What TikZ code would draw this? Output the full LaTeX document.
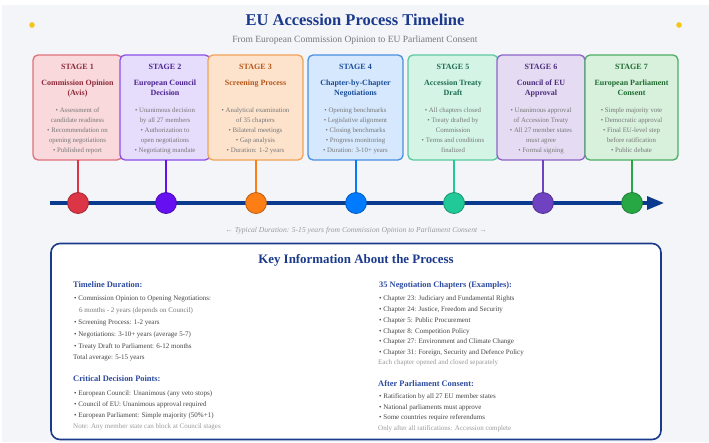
\documentclass[tikz,border=0pt]{standalone}
\usepackage{fontspec}
\setmainfont{Liberation Serif}
\usetikzlibrary{arrows.meta}
\definecolor{bg}{HTML}{F3F5F9}
\definecolor{eublue}{HTML}{1B3A8C}
\definecolor{headblue}{HTML}{2C4A9E}
\definecolor{txt}{HTML}{444444}
\definecolor{subtxt}{HTML}{777777}
\definecolor{notetxt}{HTML}{9A9A9A}
\definecolor{gold}{HTML}{F5C518}
\definecolor{timeline}{HTML}{0A3A8E}
% stage colours: fill, border, text, dot
\definecolor{f1}{HTML}{F9D9DC}\definecolor{b1}{HTML}{E0707C}\definecolor{t1}{HTML}{8B2A3A}\definecolor{d1}{HTML}{DC3545}
\definecolor{f2}{HTML}{E6DCFC}\definecolor{b2}{HTML}{8A4FE8}\definecolor{t2}{HTML}{4B2390}\definecolor{d2}{HTML}{6610F2}
\definecolor{f3}{HTML}{FDE3CC}\definecolor{b3}{HTML}{F0A35A}\definecolor{t3}{HTML}{B5561A}\definecolor{d3}{HTML}{FD7E14}
\definecolor{f4}{HTML}{D6E8FD}\definecolor{b4}{HTML}{4A90E2}\definecolor{t4}{HTML}{1A4D9A}\definecolor{d4}{HTML}{007BFF}
\definecolor{f5}{HTML}{D4F5E6}\definecolor{b5}{HTML}{5CC9A0}\definecolor{t5}{HTML}{1D6B52}\definecolor{d5}{HTML}{20C997}
\definecolor{f6}{HTML}{E5DCF3}\definecolor{b6}{HTML}{8A64C8}\definecolor{t6}{HTML}{4B2C7E}\definecolor{d6}{HTML}{6F42C1}
\definecolor{f7}{HTML}{D7F1DC}\definecolor{b7}{HTML}{4CAE64}\definecolor{t7}{HTML}{1F6B31}\definecolor{d7}{HTML}{28A745}

\tikzset{
  stagebox/.style={rounded corners=5pt, line width=1.3pt, minimum height=105pt, inner sep=0pt},
  stagelabel/.style={font=\fontsize{8}{10}\selectfont\bfseries, inner sep=0pt, anchor=center},
  stagetitle/.style={font=\fontsize{8}{10}\selectfont\bfseries, inner sep=0pt, anchor=north, align=center},
  stagebul/.style={font=\fontsize{6.8}{10}\selectfont, text=subtxt, inner sep=0pt, anchor=north, align=center},
  tldot/.style={circle, minimum size=21pt, inner sep=0pt, line width=0.8pt},
  conn/.style={line width=1.6pt},
  infohead/.style={font=\fontsize{8.4}{10}\selectfont\bfseries, text=headblue, anchor=base west, inner sep=0pt},
  infotext/.style={font=\fontsize{7}{8}\selectfont, text=txt, anchor=base west, inner sep=0pt},
  infosub/.style={font=\fontsize{7}{8}\selectfont, text=subtxt, anchor=base west, inner sep=0pt},
  infonote/.style={font=\fontsize{7}{8}\selectfont, text=notetxt, anchor=base west, inner sep=0pt},
}

% #1 number, #2 box centre x, #3 box width, #4 dot x, #5 title, #6 bullets
\newcommand\mkstage[6]{%
  \node[stagebox, fill=f#1, draw=b#1, minimum width=#3pt] (s#1) at (#2,107.5) {};
  \node[stagelabel, text=t#1] (sl#1) at (#2,67) {STAGE #1};
  \node[stagetitle, text=t#1] (st#1) at (#2,79.8) {#5};
  \node[stagebul] (sb#1) at (#2,107.4) {#6};
  \coordinate (sc#1) at (#4,160);
  \node[tldot, fill=d#1, draw=d#1!75!black] (c#1) at (#4,203) {};
  \draw[conn, draw=d#1] (sc#1) -- (c#1.north);
}

\begin{document}
\begin{tikzpicture}[x=1pt,y=-1pt]
\useasboundingbox (0,0) rectangle (709,442);
\fill[white] (0,0) rectangle (709,442);
\fill[bg] (2,5) rectangle (709,442);

% decorative dots
\fill[gold] (32,25) circle (2.8pt);
\fill[gold] (679,25) circle (2.8pt);

% title
\node[font=\fontsize{16.5}{20}\selectfont\bfseries, text=eublue, inner sep=0pt] (title) at (355,20) {EU Accession Process Timeline};
\node[font=\fontsize{9.5}{11}\selectfont, text=subtxt, inner sep=0pt] (subtitle) at (355,40) {From European Commission Opinion to EU Parliament Consent};

% timeline axis
\coordinate (tlstart) at (50,203);
\coordinate (tlend) at (664,203);
\draw[timeline, line width=3.2pt, -{Triangle[length=17pt,width=13pt]}] (tlstart) -- (tlend);

% stages
\mkstage{1}{77.5}{89}{78}{Commission Opinion\\(Avis)}{• Assessment of\\candidate readiness\\• Recommendation on\\opening negotiations\\• Published report}
\mkstage{2}{165}{90}{166}{European Council\\Decision}{• Unanimous decision\\by all 27 members\\• Authorization to\\open negotiations\\• Negotiating mandate}
\mkstage{3}{255.5}{95}{256}{Screening Process}{• Analytical examination\\of 35 chapters\\• Bilateral meetings\\• Gap analysis\\• Duration: 1-2 years}
\mkstage{4}{355.5}{95}{356}{Chapter-by-Chapter\\Negotiations}{• Opening benchmarks\\• Legislative alignment\\• Closing benchmarks\\• Progress monitoring\\• Duration: 3-10+ years}
\mkstage{5}{453}{90}{454}{Accession Treaty\\Draft}{• All chapters closed\\• Treaty drafted by\\Commission\\• Terms and conditions\\finalized}
\mkstage{6}{541}{88}{543}{Council of EU\\Approval}{• Unanimous approval\\of Accession Treaty\\• All 27 member states\\must agree\\• Formal signing}
\mkstage{7}{631.5}{93}{632}{European Parliament\\Consent}{• Simple majority vote\\• Democratic approval\\• Final EU-level step\\before ratification\\• Public debate}

% duration
\node[font=\fontsize{7.6}{9}\selectfont\itshape, text=notetxt, inner sep=0pt] (duration) at (356,231) {← Typical Duration: 5-15 years from Commission Opinion to Parliament Consent →};

% info box
\node[draw=eublue, line width=1.6pt, fill=white, rounded corners=9pt, minimum width=610pt, minimum height=196pt, inner sep=0pt] (info) at (356,341.5) {};
\node[font=\fontsize{12.9}{15}\selectfont\bfseries, text=eublue, inner sep=0pt] (infotitle) at (356,260) {Key Information About the Process};

% left column
\node[infohead] (h1) at (73,287) {Timeline Duration:};
\node[infotext] (l1) at (74,300.5) {• Commission Opinion to Opening Negotiations:};
\node[infosub] (l2) at (79,312.5) {6 months - 2 years (depends on Council)};
\node[infotext] (l3) at (74,324.5) {• Screening Process: 1-2 years};
\node[infotext] (l4) at (74,336.5) {• Negotiations: 3-10+ years (average 5-7)};
\node[infotext] (l5) at (74,348.5) {• Treaty Draft to Parliament: 6-12 months};
\node[infotext] (l6) at (73,359.8) {Total average: 5-15 years};
\node[infohead] (h2) at (73,381) {Critical Decision Points:};
\node[infotext] (l7) at (74,395.5) {• European Council: Unanimous (any veto stops)};
\node[infotext] (l8) at (74,406.5) {• Council of EU: Unanimous approval required};
\node[infotext] (l9) at (74,417.5) {• European Parliament: Simple majority (50\%+1)};
\node[infonote] (l10) at (73,428.5) {Note: Any member state can block at Council stages};

% right column
\node[infohead] (h3) at (379,287) {35 Negotiation Chapters (Examples):};
\node[infotext] (r1) at (379,300.5) {• Chapter 23: Judiciary and Fundamental Rights};
\node[infotext] (r2) at (379,311.5) {• Chapter 24: Justice, Freedom and Security};
\node[infotext] (r3) at (379,322.5) {• Chapter 5: Public Procurement};
\node[infotext] (r4) at (379,333.5) {• Chapter 8: Competition Policy};
\node[infotext] (r5) at (379,343.8) {• Chapter 27: Environment and Climate Change};
\node[infotext] (r6) at (379,354.5) {• Chapter 31: Foreign, Security and Defence Policy};
\node[infonote] (r7) at (378,364.8) {Each chapter opened and closed separately};
\node[infohead] (h4) at (378,386) {After Parliament Consent:};
\node[infotext] (r8) at (379,398.5) {• Ratification by all 27 EU member states};
\node[infotext] (r9) at (379,409.5) {• National parliaments must approve};
\node[infotext] (r10) at (379,419.8) {• Some countries require referendums};
\node[infonote] (r11) at (378,430.5) {Only after all ratifications: Accession complete};
\end{tikzpicture}
\end{document}
